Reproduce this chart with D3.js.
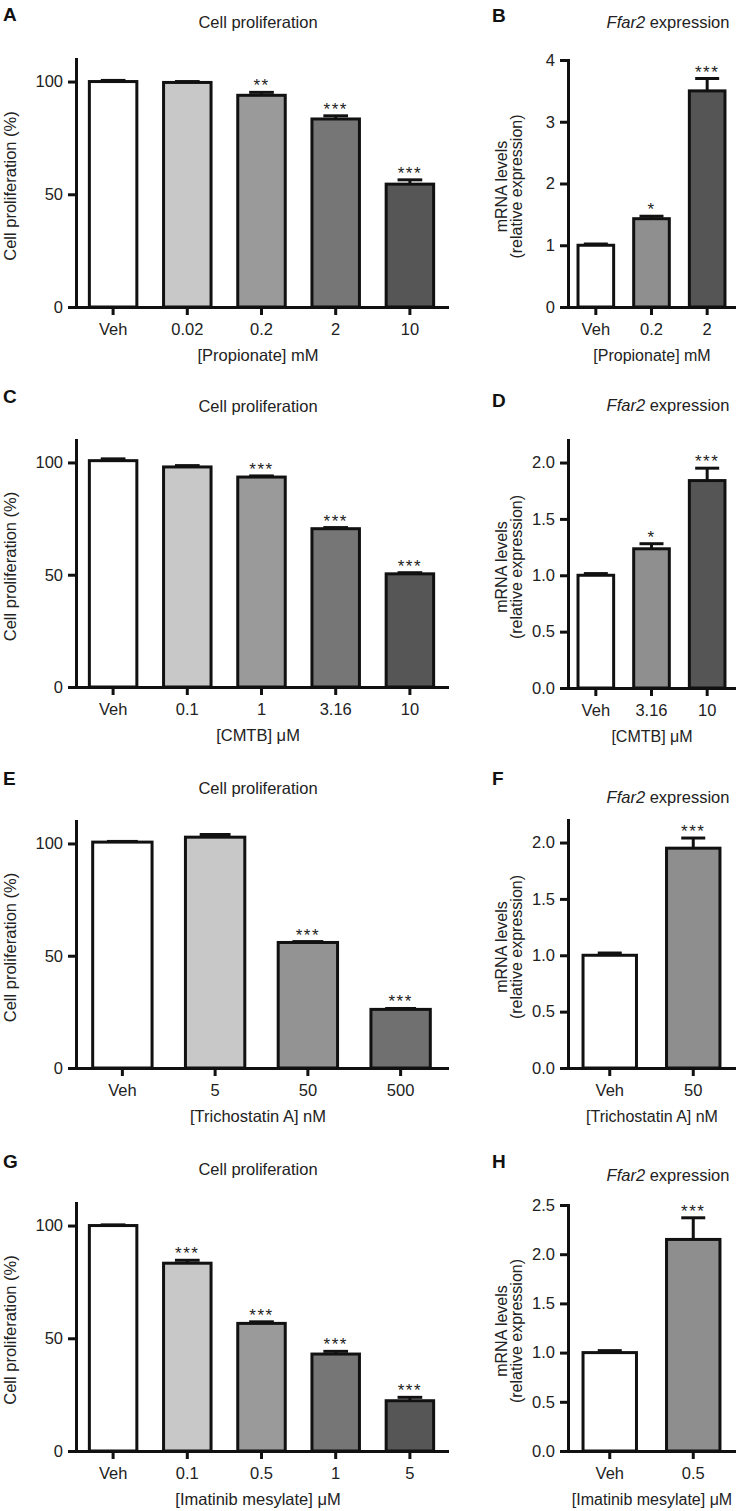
<!DOCTYPE html>
<html><head><meta charset="utf-8">
<script src="https://cdn.jsdelivr.net/npm/d3@7"></script>
<style>body{margin:0;background:#fff}svg{display:block}</style>
</head><body><svg id="c" width="736" height="1511"></svg>
<script>
// ---------- DATA ----------
const propCats = ["Veh", "0.02", "0.2", "2", "10"];
const propProlif = [100, 99.6, 93.9, 83.4, 54.5];
const propProlifErr = [0.5, 0.4, 1.3, 1.4, 1.9];
const propProlifSig = ["", "", "**", "***", "***"];

const propFfarCats = ["Veh", "0.2", "2"];
const propFfar = [1.0, 1.43, 3.5];
const propFfarErr = [0.02, 0.04, 0.2];
const propFfarSig = ["", "*", "***"];

const cmtbCats = ["Veh", "0.1", "1", "3.16", "10"];
const cmtbProlif = [100.8, 98.0, 93.5, 70.5, 50.4];
const cmtbProlifErr = [0.8, 0.6, 0.5, 0.5, 0.5];
const cmtbProlifSig = ["", "", "***", "***", "***"];

const cmtbFfarCats = ["Veh", "3.16", "10"];
const cmtbFfar = [1.0, 1.235, 1.84];
const cmtbFfarErr = [0.015, 0.045, 0.11];
const cmtbFfarSig = ["", "*", "***"];

const tsaCats = ["Veh", "5", "50", "500"];
const tsaProlif = [100.6, 102.8, 55.9, 26.1];
const tsaProlifErr = [0.3, 1.2, 0.4, 0.4];
const tsaProlifSig = ["", "", "***", "***"];

const tsaFfarCats = ["Veh", "50"];
const tsaFfar = [1.0, 1.95];
const tsaFfarErr = [0.02, 0.09];
const tsaFfarSig = ["", "***"];

const imaCats = ["Veh", "0.1", "0.5", "1", "5"];
const imaProlif = [100, 83.3, 56.6, 43.0, 22.3];
const imaProlifErr = [0.3, 1.3, 0.7, 1.2, 1.5];
const imaProlifSig = ["", "***", "***", "***", "***"];

const imaFfarCats = ["Veh", "0.5"];
const imaFfar = [1.0, 2.15];
const imaFfarErr = [0.02, 0.22];
const imaFfarSig = ["", "***"];

const prolifTicks = [0, 50, 100];
const ffarTicksB = [0, 1, 2, 3, 4];
const ffarTicksDF = [0, 0.5, 1.0, 1.5, 2.0];
const ffarTicksH = [0, 0.5, 1.0, 1.5, 2.0, 2.5];

const letters = ["A", "B", "C", "D", "E", "F", "G", "H"];
const prolifTitle = "Cell proliferation";
const prolifYLabel = "Cell proliferation (%)";
const ffarYLabel = ["mRNA levels", "(relative expression)"];
const xLabels = ["[Propionate] mM", "[Propionate] mM", "[CMTB] \u03bcM", "[CMTB] \u03bcM",
                 "[Trichostatin A] nM", "[Trichostatin A] nM", "[Imatinib mesylate] \u03bcM", "[Imatinib mesylate] \u03bcM"];

// ---------- STYLE / LAYOUT ----------
const FONT = "'Liberation Sans', Arial, Helvetica, sans-serif";
const TXT = "#222";
const INK = "#111";
const fs = 16.5;
const fill5 = ["#ffffff", "#c8c8c8", "#9a9a9a", "#767676", "#565656"];
const fill4 = ["#ffffff", "#c8c8c8", "#939393", "#707070"];
const fill3 = ["#ffffff", "#8f8f8f", "#555555"];
const fill2 = ["#ffffff", "#8e8e8e"];

const L = {x0: 76, x1: 447, titleX: 258, xlabX: 258};
const R = {x0: 568, x1: 735, titleX: 668, xlabX: 652};

const panels = [
  {side: L, cats: propCats, vals: propProlif, err: propProlifErr, sig: propProlifSig, fills: fill5,
   domain: [0, 110], ticks: prolifTicks, fmt: d3.format("d"), top: 59, base: 307, letterY: 21, titleY: 28},
  {side: R, cats: propFfarCats, vals: propFfar, err: propFfarErr, sig: propFfarSig, fills: fill3,
   domain: [0, 4], ticks: ffarTicksB, fmt: d3.format("d"), top: 60, base: 307, letterY: 22, titleY: 28},
  {side: L, cats: cmtbCats, vals: cmtbProlif, err: cmtbProlifErr, sig: cmtbProlifSig, fills: fill5,
   domain: [0, 110], ticks: prolifTicks, fmt: d3.format("d"), top: 440, base: 687, letterY: 403, titleY: 412},
  {side: R, cats: cmtbFfarCats, vals: cmtbFfar, err: cmtbFfarErr, sig: cmtbFfarSig, fills: fill3,
   domain: [0, 2.2], ticks: ffarTicksDF, fmt: d3.format(".1f"), top: 440, base: 688, letterY: 407, titleY: 411},
  {side: L, cats: tsaCats, vals: tsaProlif, err: tsaProlifErr, sig: tsaProlifSig, fills: fill4,
   domain: [0, 110], ticks: prolifTicks, fmt: d3.format("d"), top: 821, base: 1068, letterY: 785, titleY: 794},
  {side: R, cats: tsaFfarCats, vals: tsaFfar, err: tsaFfarErr, sig: tsaFfarSig, fills: fill2,
   domain: [0, 2.2], ticks: ffarTicksDF, fmt: d3.format(".1f"), top: 820, base: 1068, letterY: 785, titleY: 803},
  {side: L, cats: imaCats, vals: imaProlif, err: imaProlifErr, sig: imaProlifSig, fills: fill5,
   domain: [0, 110], ticks: prolifTicks, fmt: d3.format("d"), top: 1203, base: 1451, letterY: 1168, titleY: 1175},
  {side: R, cats: imaFfarCats, vals: imaFfar, err: imaFfarErr, sig: imaFfarSig, fills: fill2,
   domain: [0, 2.5], ticks: ffarTicksH, fmt: d3.format(".1f"), top: 1205, base: 1451, letterY: 1168, titleY: 1181}
];

const svg = d3.select("#c");
svg.append("rect").attr("width", 736).attr("height", 1511).attr("fill", "#fff");

panels.forEach((p, pi) => {
  const s = p.side;
  const isLeft = s === L;
  const g = svg.append("g");
  const x = d3.scaleBand().domain(p.cats).range([s.x0, s.x1]).paddingInner(0.36).paddingOuter(0.18);
  const y = d3.scaleLinear().domain(p.domain).range([p.base, p.top]);
  const bw = x.bandwidth();
  const capW = isLeft ? bw * 0.52 : 24;

  // bars
  g.selectAll("rect.bar").data(p.cats).join("rect")
    .attr("x", d => x(d)).attr("width", bw)
    .attr("y", (d, i) => y(p.vals[i]))
    .attr("height", (d, i) => p.base - y(p.vals[i]))
    .attr("fill", (d, i) => p.fills[i])
    .attr("stroke", INK).attr("stroke-width", 3);

  // error bars (upper only)
  const eb = g.selectAll("g.eb").data(p.cats).join("g");
  eb.append("line")
    .attr("x1", d => x(d) + bw / 2).attr("x2", d => x(d) + bw / 2)
    .attr("y1", (d, i) => y(p.vals[i])).attr("y2", (d, i) => y(p.vals[i] + p.err[i]))
    .attr("stroke", INK).attr("stroke-width", 3);
  eb.append("line")
    .attr("x1", d => x(d) + bw / 2 - capW / 2).attr("x2", d => x(d) + bw / 2 + capW / 2)
    .attr("y1", (d, i) => y(p.vals[i] + p.err[i])).attr("y2", (d, i) => y(p.vals[i] + p.err[i]))
    .attr("stroke", INK).attr("stroke-width", 3);

  // significance stars
  g.selectAll("text.sig").data(p.cats).join("text")
    .attr("x", d => x(d) + bw / 2)
    .attr("y", (d, i) => y(p.vals[i] + p.err[i]) - 1)
    .attr("text-anchor", "middle")
    .attr("font-family", FONT).attr("font-size", 17).attr("letter-spacing", 1.5)
    .attr("fill", TXT)
    .text((d, i) => p.sig[i]);

  // axes
  const ya = d3.axisLeft(y).tickValues(p.ticks).tickFormat(p.fmt).tickSize(8).tickPadding(5).tickSizeOuter(0);
  const gy = g.append("g").attr("transform", `translate(${s.x0},0)`).call(ya);
  const xa = d3.axisBottom(x).tickSize(8).tickPadding(8).tickSizeOuter(0);
  const gx = g.append("g").attr("transform", `translate(0,${p.base})`).call(xa);
  [gy, gx].forEach(a => {
    a.select(".domain").attr("stroke", INK).attr("stroke-width", 3).attr("stroke-linecap", "square");
    a.selectAll(".tick line").attr("stroke", INK).attr("stroke-width", 3);
    a.selectAll(".tick text").attr("font-family", FONT).attr("font-size", fs).attr("fill", TXT);
  });

  // panel letter
  svg.append("text").attr("x", isLeft ? 3 : 492).attr("y", p.letterY)
    .attr("font-family", FONT).attr("font-weight", "bold").attr("font-size", 19).attr("fill", "#111")
    .text(letters[pi]);

  // title
  const t = svg.append("text").attr("x", s.titleX).attr("y", p.titleY).attr("text-anchor", "middle")
    .attr("font-family", FONT).attr("font-size", fs).attr("fill", TXT);
  if (isLeft) {
    t.text(prolifTitle);
  } else {
    t.append("tspan").attr("font-style", "italic").text("Ffar2");
    t.append("tspan").text(" expression");
  }

  // y axis title
  const cy = (p.top + p.base) / 2 + 3;
  if (isLeft) {
    svg.append("text").attr("transform", `translate(16,${cy}) rotate(-90)`).attr("text-anchor", "middle")
      .attr("font-family", FONT).attr("font-size", fs).attr("fill", TXT).text(prolifYLabel);
  } else {
    ffarYLabel.forEach((ln, k) => {
      svg.append("text").attr("transform", `translate(${507 + 14.5 * k},${cy}) rotate(-90)`).attr("text-anchor", "middle")
        .attr("font-family", FONT).attr("font-size", 16).attr("fill", TXT).text(ln);
    });
  }

  // x axis title
  svg.append("text").attr("x", s.xlabX).attr("y", p.base + 54).attr("text-anchor", "middle")
    .attr("font-family", FONT).attr("font-size", isLeft ? fs : 16).attr("fill", TXT).text(xLabels[pi]);
});
</script>
</body></html>
